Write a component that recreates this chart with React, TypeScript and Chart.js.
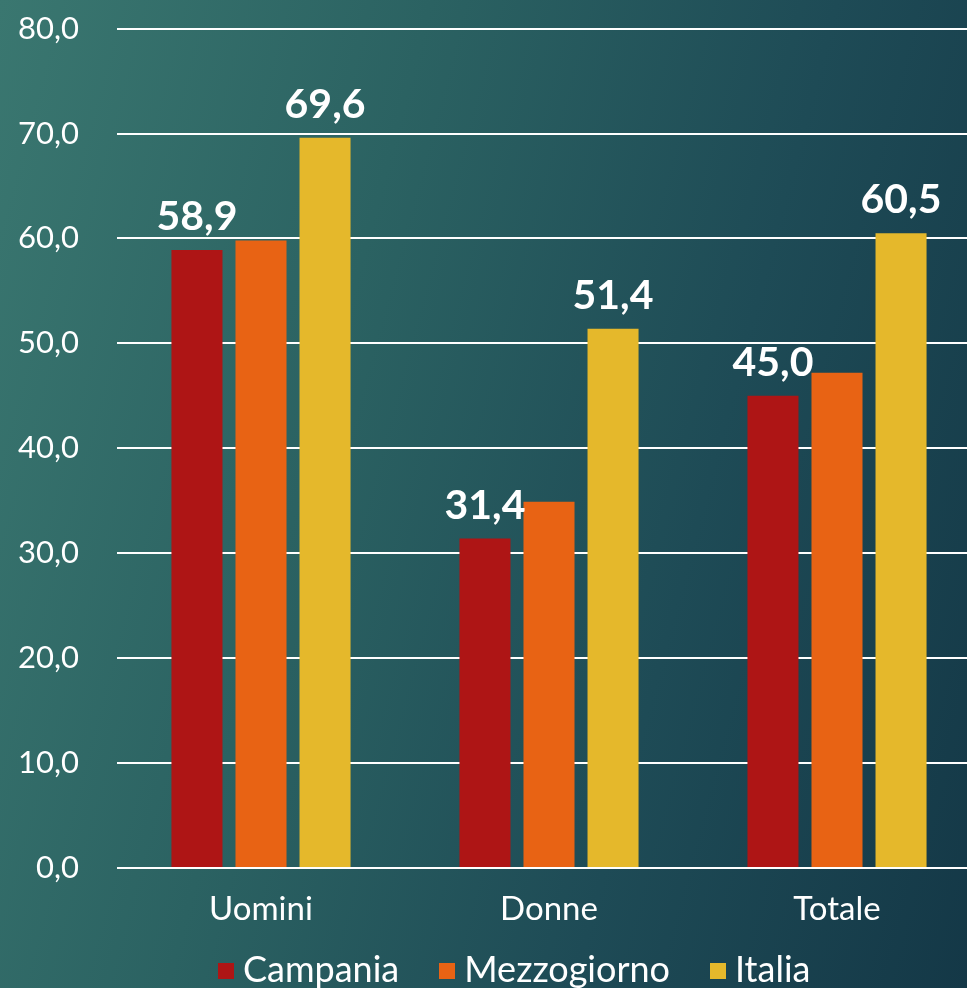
import React, { useEffect, useRef } from "react";
import { Chart, registerables } from "chart.js";

Chart.register(...registerables);

const categories = ["Uomini", "Donne", "Totale"];
const campania = [58.9, 31.4, 45.0];
const mezzogiorno = [59.8, 34.9, 47.2];
const italia = [69.6, 51.4, 60.5];
const seriesNames = ["Campania", "Mezzogiorno", "Italia"];
const seriesColors = ["#AE1515", "#E86314", "#E5B82B"];
const labelledSeries = [0, 2];

const FONT = "Lato, 'Open Sans', sans-serif";

const fmt = (v: number) => v.toFixed(1).replace(".", ",");

const valueLabels = {
  id: "valueLabels",
  afterDatasetsDraw(chart: any) {
    const ctx = chart.ctx;
    ctx.save();
    ctx.fillStyle = "#ffffff";
    ctx.font = `bold 41px ${FONT}`;
    ctx.textAlign = "center";
    ctx.textBaseline = "alphabetic";
    labelledSeries.forEach((di) => {
      const meta = chart.getDatasetMeta(di);
      meta.data.forEach((bar: any, i: number) => {
        const v = chart.data.datasets[di].data[i] as number;
        ctx.fillText(fmt(v), bar.x, bar.y - 20);
      });
    });
    ctx.restore();
  },
};

export default function App() {
  const ref = useRef<HTMLCanvasElement | null>(null);
  useEffect(() => {
    if (!ref.current) return;
    const data = [campania, mezzogiorno, italia];
    const chart = new Chart(ref.current, {
      type: "bar",
      data: {
        labels: categories,
        datasets: data.map((d, i) => ({
          label: seriesNames[i],
          data: d,
          backgroundColor: seriesColors[i],
          borderWidth: 0,
          barPercentage: 0.797,
          categoryPercentage: 0.667,
        })),
      },
      options: {
        responsive: false,
        animation: false,
        layout: { padding: { top: 4, left: 0, right: 0, bottom: 44 } },
        plugins: {
          tooltip: { enabled: false },
          legend: { display: false },
        },
        scales: {
          x: {
            grid: { display: false, drawTicks: false },
            border: { display: false },
            ticks: {
              color: "#ffffff",
              font: { family: FONT, size: 33 },
              padding: 22,
            },
            afterFit: (s: any) => {
              s.height = 76;
            },
          },
          y: {
            min: 0,
            max: 80,
            grid: { color: "#ffffff", lineWidth: 2, drawTicks: false },
            border: { display: false },
            ticks: {
              stepSize: 10,
              color: "#ffffff",
              font: { family: FONT, size: 31 },
              padding: 38,
              callback: (v: any) => fmt(Number(v)),
            },
            afterFit: (s: any) => {
              s.width = 117;
            },
          },
        },
      },
      plugins: [valueLabels],
    });
    return () => chart.destroy();
  }, []);
  return (
    <div
      style={{
        position: "absolute",
        left: 0,
        top: 0,
        width: 967,
        height: 988,
        overflow: "hidden",
        background:
          "linear-gradient(105deg, #3a7770 0%, #2b6262 35%, #1e4b56 68%, #143847 100%)",
      }}
    >
      <canvas
        ref={ref}
        width={981}
        height={1016}
        style={{
          display: "block",
          position: "absolute",
          left: 0,
          top: -28,
          width: 981,
          height: 1016,
        }}
      />
      <div
        style={{
          position: "absolute",
          left: 218,
          top: 950,
          display: "flex",
          whiteSpace: "nowrap",
          fontFamily: FONT,
          fontSize: 36,
          lineHeight: "36px",
          color: "#ffffff",
        }}
      >
        {seriesNames.map((n, i) => (
          <div
            key={n}
            style={{ display: "flex", alignItems: "flex-start", marginRight: 40 }}
          >
            <span
              style={{
                display: "inline-block",
                width: 16,
                height: 16,
                marginTop: 13,
                background: seriesColors[i],
              }}
            />
            <span style={{ marginLeft: 9 }}>{n}</span>
          </div>
        ))}
      </div>
    </div>
  );
}
